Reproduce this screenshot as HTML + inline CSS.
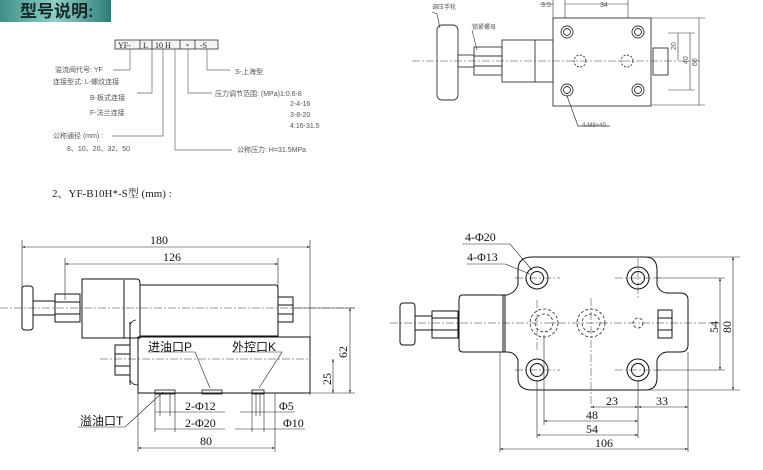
<!DOCTYPE html>
<html><head><meta charset="utf-8"><style>
html,body{margin:0;padding:0;background:#fff}
svg{display:block}
text{font-family:"Liberation Serif","Noto Serif CJK SC","Noto Sans CJK SC",serif;fill:#222}
.s{font-family:"Liberation Sans","Noto Sans CJK SC",sans-serif;font-size:7px;fill:#555}
.d{font-size:12px;fill:#111}
</style></head><body>
<svg width="763" height="470" viewBox="0 0 763 470" xmlns="http://www.w3.org/2000/svg">
<defs>
<linearGradient id="g" x1="0" x2="1"><stop offset="0" stop-color="#3f8f86"/><stop offset="0.5" stop-color="#8fd0c8"/><stop offset="1" stop-color="#2f7d78"/></linearGradient>
<marker id="a" viewBox="0 0 10 10" refX="10" refY="5" markerWidth="6" markerHeight="5" orient="auto-start-reverse"><path d="M0,2 L10,5 L0,8z" fill="#111"/></marker>
</defs>
<rect x="0" y="0" width="111" height="22" fill="url(#g)"/>
<text x="20" y="17" style="font-family:'Liberation Sans','Noto Sans CJK SC',sans-serif;font-size:17px;font-weight:bold;fill:#1a2a2a">型号说明:</text>

<!-- model code -->
<g stroke="#333" stroke-width="0.8" fill="#f4f4f4">
<rect x="115" y="40" width="103" height="9"/>
</g>
<g stroke="#333" stroke-width="0.8"><line x1="140" y1="40" x2="140" y2="49"/><line x1="152" y1="40" x2="152" y2="49"/><line x1="180" y1="40" x2="180" y2="49"/><line x1="195" y1="40" x2="195" y2="49"/></g>
<text x="118" y="48" style="font-size:8px">YF-</text><text x="143" y="48" style="font-size:8px">L</text><text x="155" y="48" style="font-size:8px">10 H</text><text x="186" y="48" style="font-size:6px">*</text><text x="200" y="48" style="font-size:8px">-S</text>
<g stroke="#666" stroke-width="0.7" fill="none">
<polyline points="113,70 130,70 130,49"/>
<polyline points="137,93 152,93 152,49"/>
<polyline points="112,136 163,136 163,49"/>
<polyline points="232,150 175,150 175,49"/>
<polyline points="212,93 188,93 188,49"/>
<polyline points="230,70 207,70 207,49"/>
</g>
<text class="s" x="55" y="72">溢流阀代号: YF</text>
<text class="s" x="53" y="84">连接型式: L-螺纹连接</text>
<text class="s" x="90" y="100">B-板式连接</text>
<text class="s" x="90" y="115">F-法兰连接</text>
<text class="s" x="53" y="138">公称通径 (mm) :</text>
<text class="s" x="67" y="151">8、10、20、32、50</text>
<text class="s" x="235" y="74">S-上海型</text>
<text class="s" x="215" y="96">压力调节范围: (MPa)1:0.6-8</text>
<text class="s" x="290" y="106">2-4-16</text>
<text class="s" x="290" y="117">3-8-20</text>
<text class="s" x="290" y="128">4:16-31.5</text>
<text class="s" x="237" y="152">公称压力: H=31.5MPa</text>
<text x="52" y="197" style="font-size:11px">2、YF-B10H*-S型 (mm) :</text>

<!-- top right drawing -->
<g stroke="#333" stroke-width="0.9" fill="none">
<rect x="437" y="25" width="21" height="75" rx="5"/>
<rect x="458" y="55" width="16" height="12"/>
<rect x="474" y="47" width="28" height="28"/>
<line x1="474" y1="56" x2="502" y2="56"/><line x1="474" y1="66" x2="502" y2="66"/>
<rect x="502" y="40" width="51" height="42"/><line x1="535" y1="40" x2="535" y2="82"/>
<rect x="553" y="18" width="98" height="88"/>
<rect x="653" y="48" width="15" height="27"/>
<circle cx="567" cy="32" r="6"/><circle cx="567" cy="32" r="3.5"/>
<circle cx="638" cy="32" r="6"/><circle cx="638" cy="32" r="3.5"/>
<circle cx="567" cy="90" r="6"/><circle cx="567" cy="90" r="3.5"/>
<circle cx="638" cy="90" r="6"/><circle cx="638" cy="90" r="3.5"/>
<circle cx="580" cy="61" r="6" stroke-dasharray="2,1.5"/><circle cx="627" cy="61" r="6" stroke-dasharray="2,1.5"/>
<line x1="553" y1="0" x2="553" y2="18" stroke-width="0.6"/><line x1="565" y1="0" x2="565" y2="18" stroke-width="0.6"/><line x1="628" y1="0" x2="628" y2="18" stroke-width="0.6"/>
<line x1="651" y1="18" x2="705" y2="18" stroke-width="0.5"/><line x1="651" y1="105" x2="705" y2="105" stroke-width="0.5"/>
<line x1="668" y1="33" x2="695" y2="33" stroke-width="0.5"/><line x1="668" y1="90" x2="695" y2="90" stroke-width="0.5"/>
<line x1="678" y1="33" x2="678" y2="60" stroke-width="0.6"/><line x1="690" y1="33" x2="690" y2="90" stroke-width="0.6"/><line x1="699" y1="18" x2="699" y2="105" stroke-width="0.6"/>
<polyline points="432,12 437,14 440,28" stroke-width="0.6"/><polyline points="472,30 477,50" stroke-width="0.6"/>
<polyline points="567,96 578,126 610,126" stroke-width="0.7"/>
<line x1="540" y1="4" x2="553" y2="4" stroke-width="0.6"/><line x1="565" y1="4" x2="628" y2="4" stroke-width="0.6"/>
</g>
<line x1="412" y1="61" x2="700" y2="61" stroke="#444" stroke-width="0.5" stroke-dasharray="8,2,2,2"/>
<text class="s" x="432" y="9" style="font-size:6px">调压手轮</text>
<text class="s" x="472" y="29" style="font-size:6px">锁紧螺母</text>
<text class="s" x="582" y="127" style="font-size:6px">4-M8×40</text>
<text class="s" x="541" y="7">3.5</text><text class="s" x="600" y="7">34</text>
<text class="s" transform="translate(676,50) rotate(-90)">20</text>
<text class="s" transform="translate(688,64) rotate(-90)">40</text>
<text class="s" transform="translate(697,66) rotate(-90)">66</text>

<!-- bottom left drawing -->
<g stroke="#111" stroke-width="1" fill="none">
<rect x="22" y="286" width="11" height="44" rx="3"/>
<rect x="33" y="301" width="22" height="14"/>
<rect x="55" y="294" width="25" height="28"/><line x1="55" y1="302" x2="80" y2="302"/><line x1="55" y1="314" x2="80" y2="314"/>
<path d="M82,279 H137 Q140,279 140,284 V338 H82 Z"/><line x1="124" y1="280" x2="124" y2="338"/>
<path d="M140,285 H276 Q278,285 278,290 V336 H140"/>
<rect x="278" y="297" width="15" height="25"/><line x1="278" y1="305" x2="293" y2="305"/><line x1="278" y1="314" x2="293" y2="314"/>
<rect x="138" y="337" width="172" height="56"/>
<rect x="115" y="345" width="15" height="30"/><line x1="115" y1="354" x2="130" y2="354"/><line x1="115" y1="366" x2="130" y2="366"/>
<path d="M130,325 Q132,320 136,320 M130,380 Q132,385 138,385" stroke-width="0.8"/>
<line x1="130" y1="322" x2="130" y2="385"/>
<rect x="155" y="390" width="20" height="4" stroke-width="0.8"/><rect x="202" y="390" width="20" height="4" stroke-width="0.8"/><rect x="252" y="390" width="12" height="4" stroke-width="0.8"/>
</g>
<g stroke="#222" stroke-width="0.6" fill="none">
<line x1="22" y1="240" x2="22" y2="290"/><line x1="65" y1="258" x2="65" y2="300"/><line x1="310" y1="240" x2="310" y2="395"/><line x1="278" y1="258" x2="278" y2="290"/>
<line x1="22" y1="247" x2="310" y2="247" marker-start="url(#a)" marker-end="url(#a)"/>
<line x1="65" y1="264" x2="278" y2="264" marker-start="url(#a)" marker-end="url(#a)"/>
<line x1="293" y1="308" x2="355" y2="308"/><line x1="310" y1="393" x2="355" y2="393"/>
<line x1="350" y1="308" x2="350" y2="393" marker-start="url(#a)" marker-end="url(#a)"/>
<line x1="333" y1="359" x2="333" y2="393" marker-start="url(#a)" marker-end="url(#a)"/>
<line x1="138" y1="393" x2="138" y2="452"/><line x1="275" y1="393" x2="275" y2="452"/>
<line x1="138" y1="448" x2="275" y2="448" marker-start="url(#a)" marker-end="url(#a)"/>
<line x1="155" y1="394" x2="155" y2="432"/><line x1="175" y1="394" x2="175" y2="432"/><line x1="160" y1="394" x2="160" y2="416"/><line x1="170" y1="394" x2="170" y2="416"/>
<line x1="252" y1="394" x2="252" y2="432"/><line x1="264" y1="394" x2="264" y2="432"/><line x1="256" y1="394" x2="256" y2="416"/><line x1="260" y1="394" x2="260" y2="416"/>
<line x1="155" y1="412" x2="225" y2="412"/><line x1="155" y1="429" x2="225" y2="429"/>
<line x1="240" y1="412" x2="295" y2="412"/><line x1="235" y1="429" x2="305" y2="429"/>
<polyline points="78,427 125,427 163,392"/><polyline points="148,352 195,352 210,388"/><polyline points="232,352 282,352 259,388"/>
</g>
<g stroke="#333" stroke-width="0.5" stroke-dasharray="8,2,2,2"><line x1="0" y1="308" x2="355" y2="308"/><line x1="100" y1="359" x2="310" y2="359"/></g>
<text class="d" x="150" y="244">180</text><text class="d" x="163" y="261">126</text>
<text class="d" x="148" y="351" style="font-family:'Liberation Sans','Noto Sans CJK SC',sans-serif">进油口P</text>
<text class="d" x="232" y="351" style="font-family:'Liberation Sans','Noto Sans CJK SC',sans-serif">外控口K</text>
<text class="d" x="185" y="410">2-Φ12</text><text class="d" x="185" y="427">2-Φ20</text>
<text class="d" x="279" y="410">Φ5</text><text class="d" x="283" y="427">Φ10</text>
<text class="d" x="200" y="445">80</text>
<text class="d" x="80" y="425" style="font-family:'Liberation Sans','Noto Sans CJK SC',sans-serif">溢油口T</text>
<text class="d" transform="translate(347,358) rotate(-90)">62</text>
<text class="d" transform="translate(331,385) rotate(-90)">25</text>

<!-- bottom right drawing -->
<g stroke="#111" stroke-width="1" fill="none">
<rect x="400" y="303" width="15" height="42" rx="3"/>
<rect x="415" y="316" width="17" height="14"/>
<rect x="432" y="311" width="26" height="27"/><line x1="432" y1="318" x2="458" y2="318"/><line x1="432" y1="330" x2="458" y2="330"/>
<path d="M505,295 H462 Q459,295 459,300 V348 Q459,352 463,352 H505"/>
<line x1="503" y1="295" x2="503" y2="352"/>
<path d="M518,270 Q518,257 532,257 H645 Q657,257 657,270 V285 Q660,293 668,293 H680 Q688,293 688,300 V345 Q688,352 680,352 H668 Q660,352 657,360 V378 Q657,390 645,390 H532 Q518,390 518,378 V360 Q515,352 507,352 H505 V295 H507 Q515,293 518,285 Z"/>
<rect x="658" y="310" width="14" height="28"/><line x1="658" y1="318" x2="672" y2="318"/><line x1="658" y1="330" x2="672" y2="330"/>
<circle cx="537" cy="278" r="11"/><circle cx="537" cy="278" r="6.5"/>
<circle cx="638" cy="278" r="11"/><circle cx="638" cy="278" r="6.5"/>
<circle cx="537" cy="370" r="11"/><circle cx="537" cy="370" r="6.5"/>
<circle cx="638" cy="370" r="11"/><circle cx="638" cy="370" r="6.5"/>
</g>
<g stroke="#222" stroke-width="0.8" fill="none" stroke-dasharray="3,2">
<circle cx="544" cy="323" r="14"/><circle cx="544" cy="323" r="9"/>
<circle cx="591" cy="323" r="14"/><circle cx="591" cy="323" r="9"/>
<circle cx="638" cy="323" r="5"/>
</g>
<g stroke="#333" stroke-width="0.5" stroke-dasharray="8,2,2,2"><line x1="390" y1="323" x2="720" y2="323"/><line x1="537" y1="300" x2="537" y2="350"/><line x1="591" y1="298" x2="591" y2="410"/><line x1="515" y1="278" x2="560" y2="278"/><line x1="615" y1="278" x2="660" y2="278"/><line x1="515" y1="370" x2="560" y2="370"/><line x1="615" y1="370" x2="660" y2="370"/><line x1="638" y1="258" x2="638" y2="300"/></g>
<g stroke="#222" stroke-width="0.6" fill="none">
<line x1="645" y1="257" x2="740" y2="257"/><line x1="645" y1="390" x2="740" y2="390"/><line x1="655" y1="278" x2="725" y2="278"/><line x1="655" y1="370" x2="725" y2="370"/>
<line x1="733" y1="257" x2="733" y2="390" marker-start="url(#a)" marker-end="url(#a)"/>
<line x1="720" y1="278" x2="720" y2="370" marker-start="url(#a)" marker-end="url(#a)"/>
<line x1="537" y1="380" x2="537" y2="438"/><line x1="544" y1="335" x2="544" y2="425"/><line x1="638" y1="380" x2="638" y2="438"/><line x1="688" y1="352" x2="688" y2="452"/><line x1="500" y1="352" x2="500" y2="452"/>
<line x1="591" y1="407" x2="638" y2="407" marker-start="url(#a)" marker-end="url(#a)"/>
<line x1="638" y1="407" x2="688" y2="407" marker-start="url(#a)" marker-end="url(#a)"/>
<line x1="544" y1="421" x2="638" y2="421" marker-start="url(#a)" marker-end="url(#a)"/>
<line x1="537" y1="435" x2="638" y2="435" marker-start="url(#a)" marker-end="url(#a)"/>
<line x1="500" y1="449" x2="688" y2="449" marker-start="url(#a)" marker-end="url(#a)"/>
<polyline points="462,244 510,244 532,270"/><polyline points="467,264 505,264 530,274"/>
</g>
<text class="d" x="465" y="241">4-Φ20</text><text class="d" x="467" y="261">4-Φ13</text>
<text class="d" x="606" y="405">23</text><text class="d" x="656" y="405">33</text>
<text class="d" x="586" y="419">48</text><text class="d" x="586" y="433">54</text><text class="d" x="595" y="447">106</text>
<text class="d" transform="translate(718,333) rotate(-90)">54</text>
<text class="d" transform="translate(731,333) rotate(-90)">80</text>
</svg>
</body></html>
